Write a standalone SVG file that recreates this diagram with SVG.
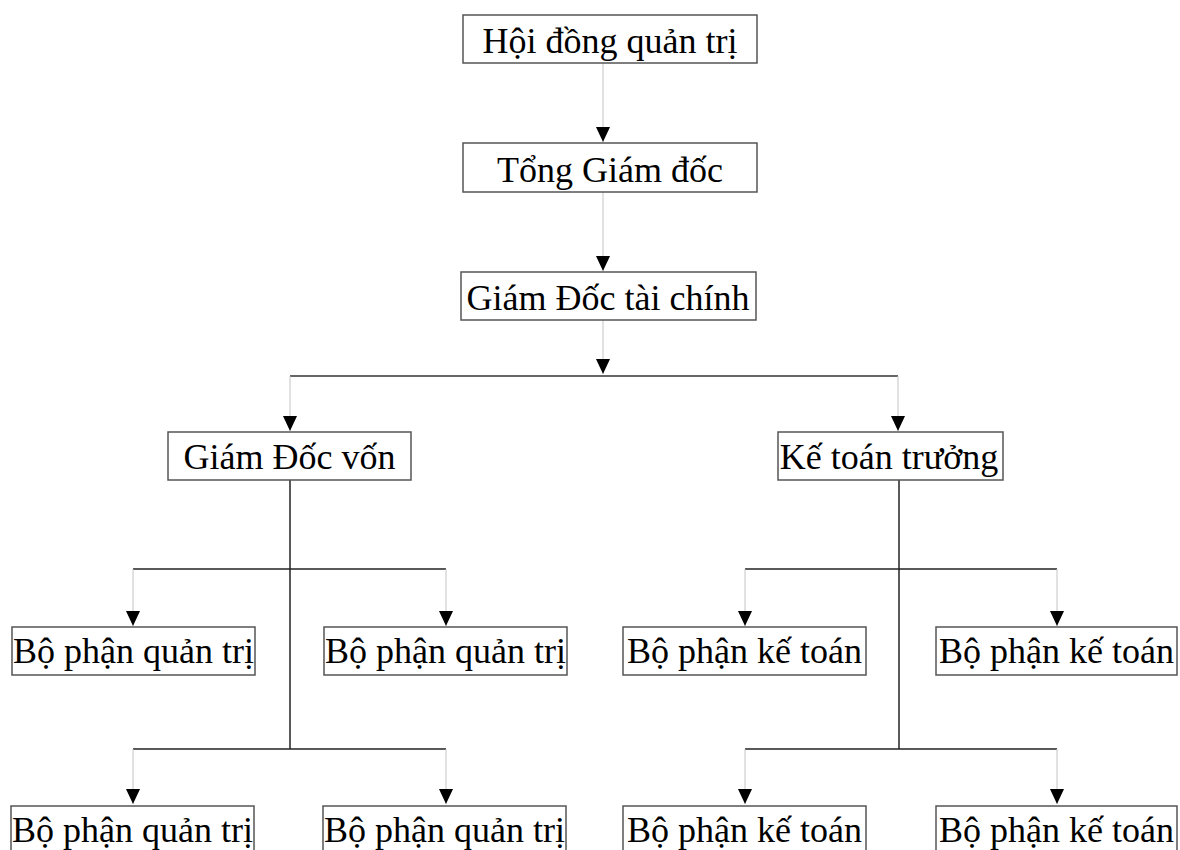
<svg xmlns="http://www.w3.org/2000/svg" width="1180" height="850" viewBox="0 0 1180 850">
<defs>
<style>
.box{fill:#fff;stroke:#555;stroke-width:1.5}
.lbl{font-family:"Liberation Serif","Times New Roman",serif;font-size:36px;fill:#000;text-anchor:middle}
.lt{stroke:#c4c4c4;stroke-width:1;fill:none}
.dk{stroke:#222;stroke-width:1.5;fill:none}
.hz{stroke:#666;stroke-width:2;fill:none}
</style>
<marker id="arr" viewBox="0 -8 16 16" refX="15" refY="0" markerWidth="16" markerHeight="16" markerUnits="userSpaceOnUse" orient="auto">
<path d="M0,-7 L15,0 L0,7 z" fill="#000"/>
</marker>
</defs>
<rect width="1180" height="850" fill="#fff"/>
<g id="connectors">
<line class="lt" x1="603" y1="63" x2="603" y2="142" marker-end="url(#arr)"/>
<line class="lt" x1="603" y1="192" x2="603" y2="271" marker-end="url(#arr)"/>
<line class="lt" x1="603" y1="320" x2="603" y2="374" marker-end="url(#arr)"/>
<line class="hz" x1="290" y1="376" x2="898" y2="376"/>
<line class="lt" x1="290" y1="376" x2="290" y2="431" marker-end="url(#arr)"/>
<line class="lt" x1="898" y1="376" x2="898" y2="431" marker-end="url(#arr)"/>
<line class="dk" x1="290" y1="480" x2="290" y2="749"/>
<line class="dk" x1="133" y1="569" x2="446" y2="569"/>
<line class="dk" x1="133" y1="749" x2="446" y2="749"/>
<line class="lt" x1="133" y1="569" x2="133" y2="626" marker-end="url(#arr)"/>
<line class="lt" x1="446" y1="569" x2="446" y2="626" marker-end="url(#arr)"/>
<line class="lt" x1="133" y1="749" x2="133" y2="804" marker-end="url(#arr)"/>
<line class="lt" x1="446" y1="749" x2="446" y2="804" marker-end="url(#arr)"/>
<line class="dk" x1="899" y1="480" x2="899" y2="749"/>
<line class="dk" x1="745" y1="569" x2="1057" y2="569"/>
<line class="dk" x1="745" y1="749" x2="1057" y2="749"/>
<line class="lt" x1="745" y1="569" x2="745" y2="626" marker-end="url(#arr)"/>
<line class="lt" x1="1057" y1="569" x2="1057" y2="626" marker-end="url(#arr)"/>
<line class="lt" x1="745" y1="749" x2="745" y2="804" marker-end="url(#arr)"/>
<line class="lt" x1="1057" y1="749" x2="1057" y2="804" marker-end="url(#arr)"/>
</g>
<g id="n1"><rect class="box" x="463" y="15" width="294" height="48"/><text class="lbl" x="610" y="53">Hội đồng quản trị</text></g>
<g id="n2"><rect class="box" x="463" y="143" width="294" height="49"/><text class="lbl" x="610" y="182">Tổng Giám đốc</text></g>
<g id="n3"><rect class="box" x="461" y="272" width="295" height="48"/><text class="lbl" x="608" y="310">Giám Đốc tài chính</text></g>
<g id="n4"><rect class="box" x="168" y="432" width="243" height="48"/><text class="lbl" x="289.5" y="469">Giám Đốc vốn</text></g>
<g id="n5"><rect class="box" x="778" y="432" width="225" height="48"/><text class="lbl" x="889" y="469">Kế toán trưởng</text></g>
<g id="n6"><rect class="box" x="12" y="627" width="243" height="48"/><text class="lbl" x="133.5" y="663">Bộ phận quản trị</text></g>
<g id="n7"><rect class="box" x="324" y="627" width="243" height="48"/><text class="lbl" x="445.5" y="663">Bộ phận quản trị</text></g>
<g id="n8"><rect class="box" x="623" y="627" width="243" height="48"/><text class="lbl" x="744.5" y="663">Bộ phận kế toán</text></g>
<g id="n9"><rect class="box" x="936" y="627" width="241" height="48"/><text class="lbl" x="1056.5" y="663">Bộ phận kế toán</text></g>
<g id="n10"><rect class="box" x="11" y="806" width="243" height="48"/><text class="lbl" x="132.5" y="842">Bộ phận quản trị</text></g>
<g id="n11"><rect class="box" x="323" y="806" width="243" height="48"/><text class="lbl" x="444.5" y="842">Bộ phận quản trị</text></g>
<g id="n12"><rect class="box" x="623" y="806" width="243" height="48"/><text class="lbl" x="744.5" y="842">Bộ phận kế toán</text></g>
<g id="n13"><rect class="box" x="936" y="806" width="241" height="48"/><text class="lbl" x="1056.5" y="842">Bộ phận kế toán</text></g>
</svg>
